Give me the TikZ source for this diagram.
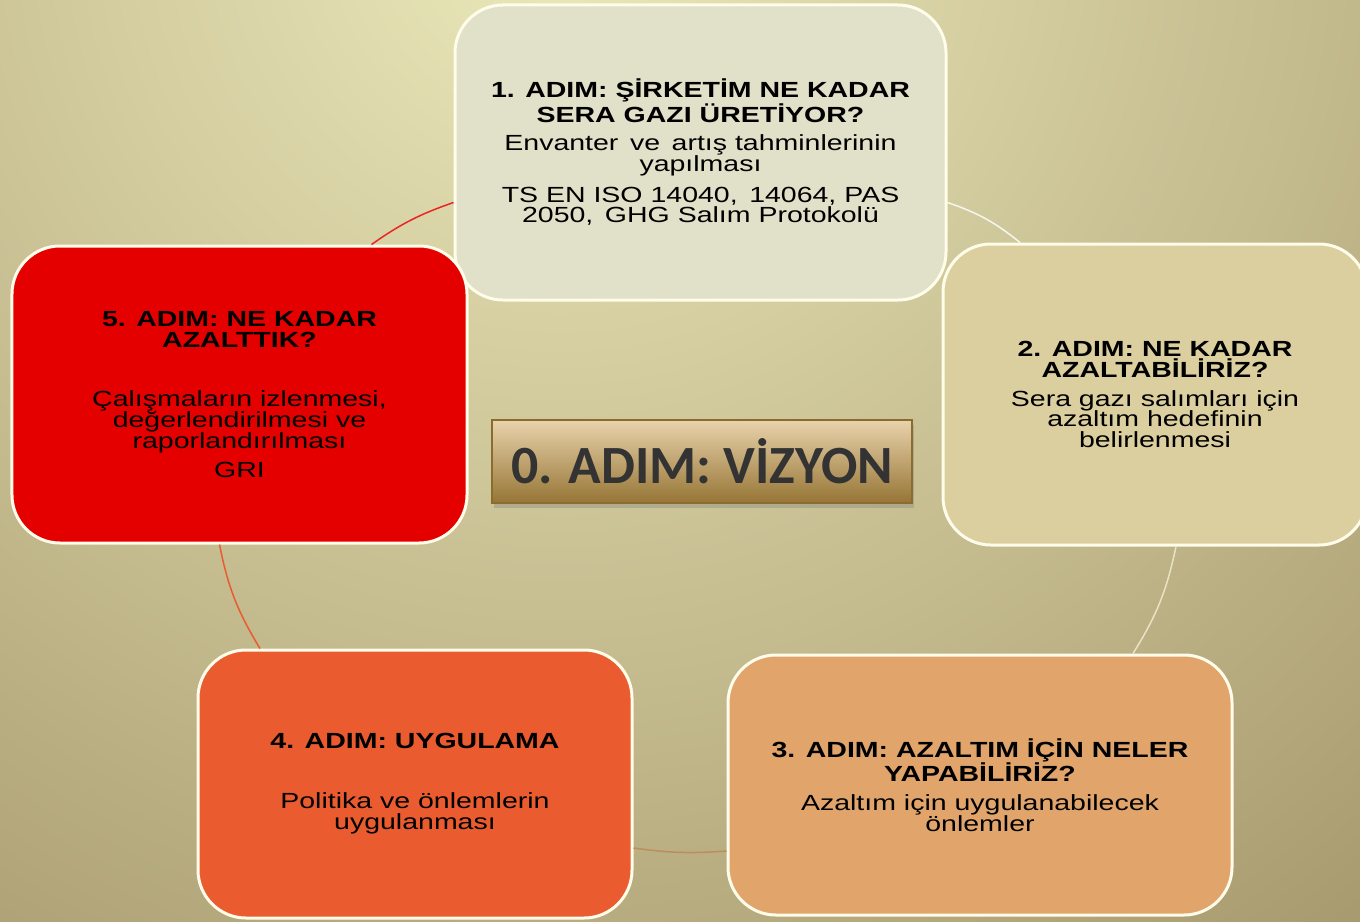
\documentclass[tikz,border=0pt]{standalone}
\usepackage{fontspec}
\setmainfont{Liberation Sans}
\newfontfamily\adimfont[FakeStretch=1.3]{Liberation Sans}
\newfontfamily\vizyonfont{Carlito}
\usetikzlibrary{shadows}
\definecolor{bglight}{HTML}{EBE9BB}
\definecolor{bgdark}{HTML}{A29368}
\definecolor{boxedge}{HTML}{FFFCEA}
\definecolor{kutuA}{HTML}{E1E0C9}
\definecolor{kutuB}{HTML}{DCCF9F}
\definecolor{kutuC}{HTML}{E1A56C}
\definecolor{kutuD}{HTML}{EA5C30}
\definecolor{kutuE}{HTML}{E50000}
\definecolor{vizyontop}{HTML}{E9D3AC}
\definecolor{vizyonbot}{HTML}{967535}
\definecolor{vizyonedge}{HTML}{8C6C2E}
\definecolor{vizyontext}{HTML}{333333}

\begin{document}
\begin{tikzpicture}[x=1bp,y=-1bp,
                    adim box/.style={
                        draw=boxedge,
                        line width=3bp,
                        rounded corners=48bp,
                        align=center,
                        inner sep=0pt,
                        font=\adimfont\fontsize{22}{21}\selectfont},
                    vizyon box/.style={draw=vizyonedge, line width=1.5bp, top color=vizyontop, bottom color=vizyonbot,
                        drop shadow={shadow xshift=2bp, shadow yshift=-5bp, opacity=0.35},
                        font=\vizyonfont\bfseries\fontsize{54}{56}\selectfont, text=vizyontext},
                    link/.style={line width=1.5bp}]
\useasboundingbox (0,0) rectangle (1360,921);
% background
\begin{scope}
\clip (0,0) rectangle (1360,921);
\shade[inner color=bglight, outer color=bgdark] (560,-80) circle (1400);
\end{scope}
% the five steps
\node[adim box, fill=kutuA, minimum width=491bp, minimum height=295bp] (s1) at (700.5,152.5)
  {\textbf{1. ADIM: ŞİRKETİM NE KADAR}\\ \textbf{SERA GAZI ÜRETİYOR?}\\[7bp]
   Envanter\, ve\, artış tahminlerinin\\ yapılması\\[10bp]
   TS EN ISO 14040,\, 14064, PAS\\ 2050,\, GHG Salım Protokolü};
\node[adim box, fill=kutuB, minimum width=424bp, minimum height=301bp] (s2) at (1155,394.5)
  {\textbf{2. ADIM: NE KADAR}\\ \textbf{AZALTABİLİRİZ?}\\[8bp]
   Sera gazı salımları için\\ azaltım hedefinin\\ belirlenmesi};
\node[adim box, fill=kutuC, minimum width=504bp, minimum height=260bp] (s3) at (980,785)
  {\textbf{3. ADIM: AZALTIM İÇİN NELER}\\ \textbf{YAPABİLİRİZ?}\\[8bp]
   Azaltım için uygulanabilecek\\ önlemler};
\node[adim box, fill=kutuD, minimum width=434bp, minimum height=268bp] (s4) at (415,784)
  {\textbf{4. ADIM: UYGULAMA}\\[39bp]
   Politika ve önlemlerin\\ uygulanması};
\node[adim box, fill=kutuE, minimum width=455bp, minimum height=297bp] (s5) at (239.5,394.5)
  {\textbf{5. ADIM: NE KADAR}\\ \textbf{AZALTTIK?}\\[38bp]
   Çalışmaların izlenmesi,\\ değerlendirilmesi ve\\ raporlandırılması\\[8bp]
   GRI};
% centre
\node[vizyon box, minimum width=420bp, minimum height=83bp] (s0) at (702,461.5) {0. ADIM: VİZYON};
% cycle arcs between the steps
\draw[link, draw=white!70!kutuA] ([yshift=-50bp]s1.east) to[bend left=10] ([xshift=-135bp]s2.north);
\draw[link, draw=white!40!kutuB] ([xshift=21bp]s2.south) to[bend left=10] ([xshift=153bp]s3.north);
\draw[link, draw=kutuC!85!black] ([yshift=-66bp]s3.west) to[bend left=6] ([yshift=-64bp]s4.east);
\draw[link, draw=kutuD] ([xshift=-155bp]s4.north) to[bend left=10] ([xshift=-20bp]s5.south);
\draw[link, draw=kutuE!85!white] ([xshift=132bp]s5.north) to[bend left=8] ([yshift=-50bp]s1.west);
\end{tikzpicture}
\end{document}
